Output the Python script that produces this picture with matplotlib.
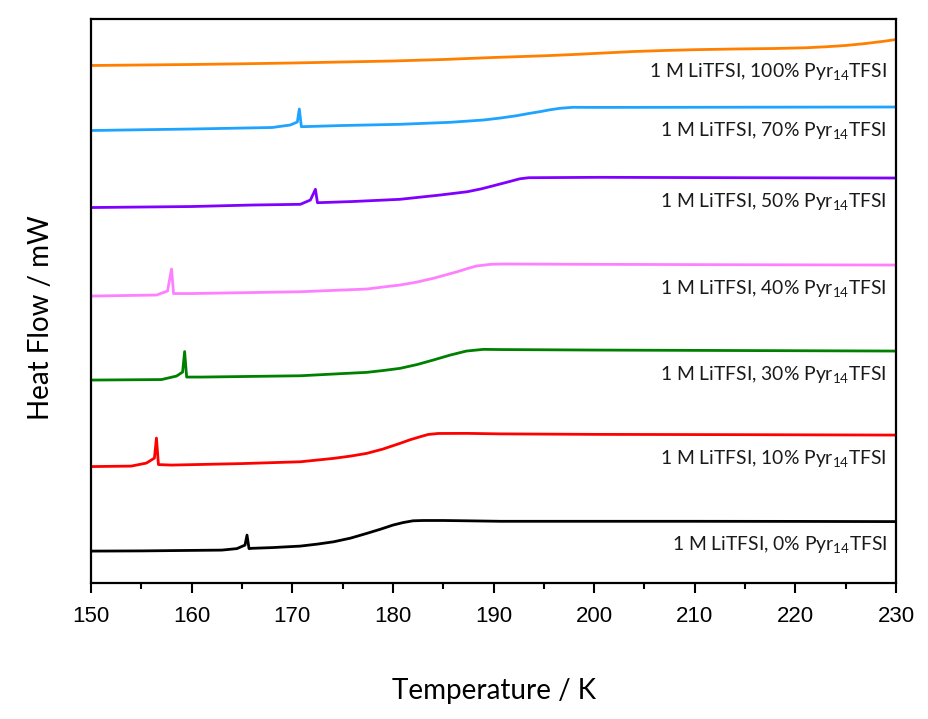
import numpy as np
import matplotlib
matplotlib.use("Agg")
import matplotlib.pyplot as plt
from matplotlib.ticker import MultipleLocator

plt.rcParams["mathtext.fontset"] = "custom"
plt.rcParams["mathtext.rm"] = "Lato"
plt.rcParams["mathtext.it"] = "Lato:italic"

# DSC traces: temperature (K) and heat flow, stacked with a vertical offset (arbitrary units)
t_0 = [150, 155, 160, 163, 164.5, 165.3, 165.5, 165.7, 166, 168, 170.8, 172.5, 174.1, 175.8,
       177.4, 178.8, 180, 181, 182, 183, 185, 187.3, 190.7, 200, 210, 220, 230]
hf_0 = [32, 32.2, 32.7, 33, 34.5, 38, 48, 34.5, 34.8, 35.5, 37, 39, 41.3, 45,
        49.7, 54, 58, 60.5, 62.3, 62.6, 62.6, 62.3, 61.8, 61.8, 61.8, 61.7, 61.5]

t_10 = [150, 154, 155.5, 156.3, 156.5, 156.7, 158, 165, 170.8, 174.1, 175.8, 177.4, 179,
        180.7, 181.7, 182.7, 183.5, 184.5, 187.3, 190.7, 200, 215, 230]
hf_10 = [116.5, 117, 120, 125, 145, 118.5, 118, 119.5, 121.3, 124.7, 127, 129.7, 134,
         139.7, 143.3, 146.3, 148.6, 149.6, 149.7, 149.2, 148.7, 148.4, 148]

t_30 = [150, 157, 158.5, 159.1, 159.3, 159.5, 161, 170.8, 175, 177.4, 179, 180.7, 182.4,
        184, 185.7, 187.3, 189, 190.7, 200, 215, 230]
hf_30 = [203, 203.5, 207, 211, 231.5, 206, 206, 207.3, 209.5, 210.7, 212.5, 214.7, 218.5,
         223, 228, 232, 233.7, 233.5, 233, 232.5, 232]

t_40 = [150, 156.5, 157.6, 158.0, 158.2, 160, 170.8, 177.4, 179, 180.7, 182.4, 184, 185.2,
        186.4, 187.4, 188.3, 189.7, 191, 200, 215, 230]
hf_40 = [287, 288, 292, 314, 289.5, 289.5, 291.3, 294, 296, 298, 301, 304.7, 308,
         311.3, 314.5, 317, 318.7, 319, 318.7, 318.3, 318]

t_50 = [150, 160, 166, 170.8, 171.8, 172.3, 172.5, 176, 180.7, 184.7, 187.4, 188.8, 190.0,
        191.3, 192.6, 193.5, 200.6, 215, 230]
hf_50 = [375.5, 376.5, 378, 378.7, 383, 393.7, 380.3, 381.5, 383.7, 388, 391.3, 394.2, 397.3,
         400.7, 404.2, 405.3, 405.7, 405.3, 405]

t_70 = [150, 160, 168, 169.8, 170.5, 170.7, 170.9, 175, 180.7, 185.7, 189, 190.7, 192.3,
        193.5, 194.6, 195.6, 196.6, 197.9, 200.6, 215, 230]
hf_70 = [452.5, 454, 455.5, 458, 461, 474, 456.3, 457.5, 458.7, 460.7, 463, 465, 467.3,
         469.5, 471.3, 473.2, 474.7, 475.7, 475.6, 475.8, 476]

t_100 = [150, 155, 160, 165, 170, 175, 180, 185, 190, 195, 198, 201, 204, 207, 210, 214,
         218, 221, 223, 225, 227, 229, 230]
hf_100 = [517.5, 518, 518.5, 519.2, 520, 521, 522, 523.5, 525.5, 527.2, 528.5, 530, 531.5,
          532.5, 533.3, 534, 534.5, 535.2, 536.2, 537.5, 539.5, 542, 543.5]

fractions = ["0%", "10%", "30%", "40%", "50%", "70%", "100%"]
colors = ["#000000", "#ff0000", "#008000", "#ff80ff", "#8000ff", "#1ea3ff", "#ff8000"]
temps = [t_0, t_10, t_30, t_40, t_50, t_70, t_100]
flows = [hf_0, hf_10, hf_30, hf_40, hf_50, hf_70, hf_100]

fig = plt.figure(figsize=(9.29, 7.19), dpi=100)
ax = fig.add_axes([0.098, 0.189, 0.8665, 0.7846])

label_x = 229.1
for t, hf, frac, c in zip(temps, flows, fractions, colors):
    t = np.asarray(t)
    hf = np.asarray(hf)
    ax.plot(t, hf, color=c, lw=2.0, solid_joinstyle="round")
    y_lab = np.median(hf[t >= 200]) - 23.5
    ax.text(label_x, y_lab,
            "1 M LiTFSI, " + frac + r" Pyr$\mathregular{_{14}}$TFSI",
            ha="right", va="center", fontsize=13.9, family="Lato", color="#1a1a1a")

ax.set_xlim(150, 230)
ax.set_ylim(0, 564)
ax.xaxis.set_major_locator(MultipleLocator(10))
ax.xaxis.set_minor_locator(MultipleLocator(5))
ax.set_yticks([])
ax.tick_params(axis="x", which="major", direction="out", length=7.5, width=1.5,
               pad=9, labelsize=16)
ax.tick_params(axis="x", which="minor", direction="out", length=4, width=1.5)
for lab in ax.get_xticklabels():
    lab.set_family("Liberation Sans")
for s in ax.spines.values():
    s.set_linewidth(1.6)

ax.set_xlabel("Temperature / K", fontsize=20, family="Lato")
ax.set_ylabel("Heat Flow / mW", fontsize=20, family="Lato")
ax.xaxis.set_label_coords(0.501, -0.168)
ax.yaxis.set_label_coords(-0.046, 0.47)

fig.savefig("out.png", dpi=100, facecolor="white")
